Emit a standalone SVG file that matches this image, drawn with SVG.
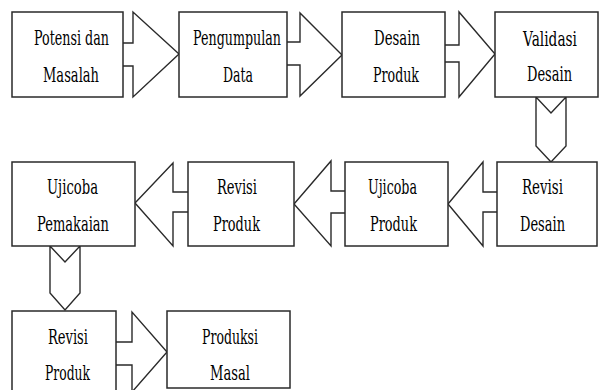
<svg xmlns="http://www.w3.org/2000/svg" width="600" height="390" viewBox="0 0 600 390">
<style>
.box{fill:#fff;stroke:#2a2a2a;stroke-width:1.5}
.arr{fill:#fff;stroke:#2a2a2a;stroke-width:1.4;stroke-linejoin:miter}
.t{font-family:'DejaVu Serif','Liberation Serif',serif;font-size:20px;fill:#000;text-anchor:middle}
</style>
<rect width="600" height="390" fill="#fff"/>
<g id="connectors">
<path class="arr" d="M123,43 H133 V12 L179,54 L133,97 V66 H123"/>
<path class="arr" d="M287,42 H300 V13 L342,55 L300,96 V65 H287"/>
<path class="arr" d="M445,45 H459 V12 L495,54 L459,97 V62 H445"/>
<path class="arr" d="M536,97 V146 L551,162 L566,146 V97 L551,113 Z"/>
<path class="arr" d="M497,192 H483 V162 L448,204 L483,246 V212 H497"/>
<path class="arr" d="M345,191 H331 V161 L294,204 L331,246 V213 H345"/>
<path class="arr" d="M188,192 H173 V163 L135,203 L173,246 V212 H188"/>
<path class="arr" d="M50,246 V293 L65,310 L80,293 V246 L65,262 Z"/>
<path class="arr" d="M116,342 H132 V312 L167,352 L132,392 V365 H116"/>
</g>
<g class="t">
<g id="n1"><rect class="box" x="12" y="12" width="111" height="85"/>
<text x="71.5" y="45" textLength="75" lengthAdjust="spacingAndGlyphs">Potensi dan</text>
<text x="71" y="82" textLength="56" lengthAdjust="spacingAndGlyphs">Masalah</text></g>
<g id="n2"><rect class="box" x="179" y="12" width="108" height="85"/>
<text x="237" y="45" textLength="88" lengthAdjust="spacingAndGlyphs">Pengumpulan</text>
<text x="238" y="82" textLength="30" lengthAdjust="spacingAndGlyphs">Data</text></g>
<g id="n3"><rect class="box" x="342" y="12" width="103" height="85"/>
<text x="397" y="45" textLength="46" lengthAdjust="spacingAndGlyphs">Desain</text>
<text x="396" y="82" textLength="46" lengthAdjust="spacingAndGlyphs">Produk</text></g>
<g id="n4"><rect class="box" x="495" y="12" width="103" height="85"/>
<text x="550" y="46" textLength="54" lengthAdjust="spacingAndGlyphs">Validasi</text>
<text x="549.5" y="81" textLength="45" lengthAdjust="spacingAndGlyphs">Desain</text></g>
<g id="n5"><rect class="box" x="12" y="162" width="123" height="84"/>
<text x="72.5" y="194" textLength="51" lengthAdjust="spacingAndGlyphs">Ujicoba</text>
<text x="73" y="231" textLength="72" lengthAdjust="spacingAndGlyphs">Pemakaian</text></g>
<g id="n6"><rect class="box" x="188" y="162" width="106" height="84"/>
<text x="237" y="194" textLength="40" lengthAdjust="spacingAndGlyphs">Revisi</text>
<text x="236.5" y="231" textLength="47" lengthAdjust="spacingAndGlyphs">Produk</text></g>
<g id="n7"><rect class="box" x="345" y="162" width="103" height="84"/>
<text x="392.5" y="194" textLength="49" lengthAdjust="spacingAndGlyphs">Ujicoba</text>
<text x="393.5" y="231" textLength="47" lengthAdjust="spacingAndGlyphs">Produk</text></g>
<g id="n8"><rect class="box" x="497" y="162" width="100" height="84"/>
<text x="542.5" y="194" textLength="41" lengthAdjust="spacingAndGlyphs">Revisi</text>
<text x="542.5" y="231" textLength="45" lengthAdjust="spacingAndGlyphs">Desain</text></g>
<g id="n9"><rect class="box" x="12" y="311" width="104" height="90"/>
<text x="68" y="344" textLength="40" lengthAdjust="spacingAndGlyphs">Revisi</text>
<text x="67.5" y="380" textLength="45" lengthAdjust="spacingAndGlyphs">Produk</text></g>
<g id="n10"><rect class="box" x="167" y="311" width="123" height="77"/>
<text x="230" y="344" textLength="56" lengthAdjust="spacingAndGlyphs">Produksi</text>
<text x="230" y="380" textLength="40" lengthAdjust="spacingAndGlyphs">Masal</text></g>
</g>
</svg>
